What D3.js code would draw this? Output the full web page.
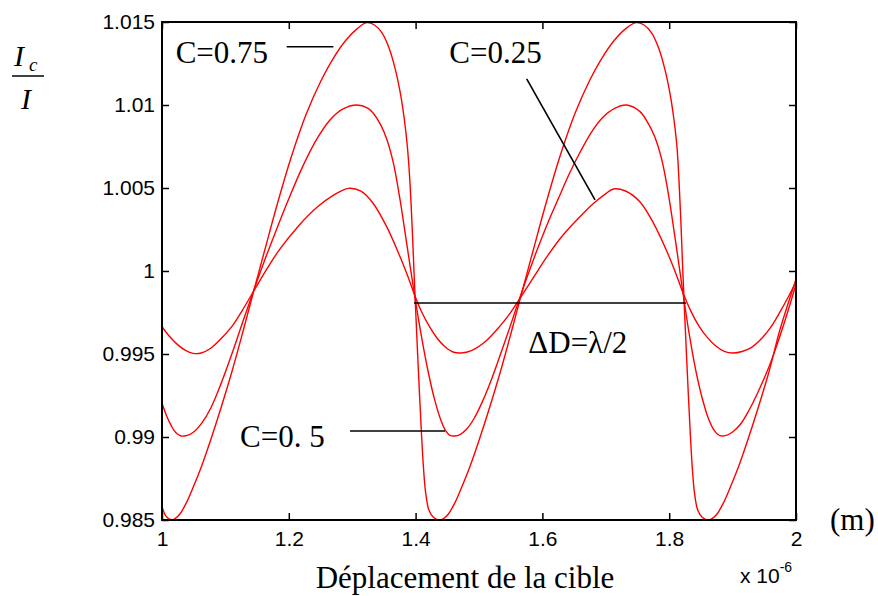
<!DOCTYPE html>
<html>
<head>
<meta charset="utf-8">
<script src="https://cdn.jsdelivr.net/npm/d3@7"></script>
<style>
  body { margin: 0; background: #fff; }
  .tick text { font-family: "Liberation Sans", Arial, sans-serif; font-size: 21px; fill: #000; }
  .tick line { stroke: #000; stroke-width: 1.5; }
  .serif { font-family: "Liberation Serif", "Times New Roman", serif; fill: #000; }
</style>
</head>
<body>
<div id="chart"></div>
<script>

// x in units of 1e-6 m, y = Ic/I
var c25 = [[1.000,0.99664],[1.012,0.99605],[1.025,0.99555],[1.037,0.99522],[1.049,0.99504],[1.062,0.99506],
  [1.075,0.99530],[1.090,0.99580],[1.110,0.99665],[1.127,0.99765],[1.144,0.99875],[1.165,1.00010],
  [1.185,1.00127],[1.215,1.00270],[1.245,1.00385],[1.270,1.00455],[1.294,1.00498],[1.313,1.00482],
  [1.332,1.00413],[1.354,1.00270],[1.375,1.00090],[1.388,0.99965],[1.399,0.99850],[1.410,0.99750],
  [1.422,0.99665],[1.434,0.99595],[1.446,0.99545],[1.459,0.99512],[1.472,0.99506],[1.488,0.99520],
  [1.510,0.99575],[1.533,0.99668],[1.548,0.99740],[1.562,0.99820],[1.584,0.99950],[1.607,1.00085],
  [1.630,1.00205],[1.655,1.00310],[1.680,1.00405],[1.698,1.00460],[1.712,1.00494],[1.731,1.00482],
  [1.754,1.00416],[1.775,1.00290],[1.795,1.00130],[1.810,0.99990],[1.822,0.99866],[1.834,0.99760],
  [1.847,0.99668],[1.860,0.99600],[1.873,0.99550],[1.887,0.99516],[1.900,0.99506],[1.915,0.99515],
  [1.930,0.99540],[1.945,0.99590],[1.960,0.99660],[1.975,0.99755],[1.988,0.99845],[2.000,0.99935]];

var c50 = [[1.000,0.99203],[1.007,0.99130],[1.015,0.99065],[1.022,0.99025],[1.030,0.99006],[1.040,0.99010],
  [1.050,0.99030],[1.063,0.99085],[1.077,0.99175],[1.093,0.99320],[1.112,0.99520],[1.128,0.99700],
  [1.144,0.99875],[1.160,1.00045],[1.178,1.00225],[1.200,1.00435],[1.222,1.00630],[1.245,1.00800],
  [1.265,1.00910],[1.285,1.00975],[1.307,1.01000],[1.325,1.00980],[1.3333,1.00950],[1.345,1.00880],
  [1.3544,1.00795],[1.365,1.00650],[1.375,1.00440],[1.387,1.00140],[1.399,0.99840],[1.410,0.99590],
  [1.420,0.99390],[1.430,0.99225],[1.440,0.99100],[1.447,0.99040],[1.454,0.99010],[1.462,0.99006],
  [1.470,0.99015],[1.480,0.99045],[1.492,0.99110],[1.505,0.99210],[1.520,0.99350],[1.535,0.99510],
  [1.549,0.99665],[1.562,0.99813],[1.576,0.99965],[1.591,1.00120],[1.608,1.00285],[1.625,1.00435],
  [1.643,1.00590],[1.660,1.00720],[1.678,1.00840],[1.695,1.00925],[1.714,1.00980],[1.733,1.01000],
  [1.754,1.00960],[1.766,1.00895],[1.777,1.00810],[1.788,1.00675],[1.798,1.00480],[1.810,1.00180],
  [1.822,0.99860],[1.832,0.99610],[1.842,0.99400],[1.852,0.99235],[1.862,0.99110],[1.871,0.99040],
  [1.880,0.99008],[1.890,0.99010],[1.900,0.99030],[1.912,0.99075],[1.925,0.99155],[1.940,0.99270],
  [1.955,0.99400],[1.970,0.99555],[1.985,0.99730],[2.000,0.99920]];

var c75 = [[1.000,0.98582],[1.006,0.98525],[1.0153,0.98500],[1.021,0.98510],[1.028,0.98535],[1.038,0.98600],
  [1.050,0.98705],[1.063,0.98830],[1.077,0.98985],[1.093,0.99175],[1.110,0.99390],[1.127,0.99625],
  [1.144,0.99870],[1.162,1.00125],[1.182,1.00405],[1.205,1.00700],[1.228,1.00950],[1.250,1.01140],
  [1.270,1.01280],[1.290,1.01390],[1.308,1.01460],[1.3229,1.01496],[1.335,1.01482],[1.347,1.01435],
  [1.358,1.01345],[1.368,1.01215],[1.376,1.01070],[1.382,1.00920],[1.387,1.00750],[1.391,1.00540],
  [1.3945,1.00270],[1.3975,0.99995],[1.4005,0.99730],[1.4035,0.99475],[1.4065,0.99230],[1.4095,0.99005],
  [1.4125,0.98810],[1.416,0.98660],[1.421,0.98560],[1.428,0.98517],[1.4385,0.98500],[1.4445,0.98510],
  [1.4515,0.98535],[1.4615,0.98600],[1.4735,0.98705],[1.4865,0.98830],[1.5005,0.98985],[1.5165,0.99175],
  [1.5335,0.99390],[1.5505,0.99625],[1.5675,0.99870],[1.5855,1.00125],[1.6055,1.00405],[1.6285,1.00700],
  [1.6515,1.00950],[1.6735,1.01140],[1.6935,1.01280],[1.7135,1.01390],[1.7315,1.01460],[1.7476,1.01496],
  [1.7602,1.01482],[1.7722,1.01435],[1.7832,1.01345],[1.7932,1.01215],[1.8012,1.01070],[1.8072,1.00920],
  [1.8122,1.00750],[1.8155,1.00540],[1.8187,1.00270],[1.8215,0.99995],[1.8245,0.99730],[1.8275,0.99475],
  [1.8305,0.99230],[1.8335,0.99005],[1.8365,0.98810],[1.840,0.98660],[1.845,0.98560],[1.852,0.98517],
  [1.8625,0.98500],[1.8682,0.98510],[1.8752,0.98535],[1.8852,0.98600],[1.8972,0.98705],[1.9102,0.98830],
  [1.9242,0.98985],[1.9402,0.99175],[1.9572,0.99390],[1.9742,0.99640],[1.9872,0.99800],[2.000,0.99950]];

var xTicks = [1, 1.2, 1.4, 1.6, 1.8, 2];
var xTickLabels = ["1", "1.2", "1.4", "1.6", "1.8", "2"];
var yTicks = [0.985, 0.99, 0.995, 1, 1.005, 1.01, 1.015];
var yTickLabels = ["0.985", "0.99", "0.995", "1", "1.005", "1.01", "1.015"];

// annotations (data coords)
var noteText = ["C=0.75", "C=0.25", "C=0. 5", "\u0394D=\u03bb/2"];
var notePos = [[1.0216, 1.01255], [1.5989, 1.01255], [1.1230, 0.98942], [1.5778, 0.99508]];
var noteAnchor = ["start", "end", "start", "start"];
var pointers = [
  [[1.1967, 1.01351], [1.2703, 1.01351]],
  [[1.5752, 1.01157], [1.6830, 1.00428]],
  [[1.2965, 0.99036], [1.4464, 0.99036]],
  [[1.3975, 0.99807], [1.8265, 0.99807]]
];

var margin = {top: 22, right: 82, bottom: 76, left: 162},
    width = 878 - margin.left - margin.right,
    height = 596 - margin.top - margin.bottom;

var svg = d3.select("#chart")
  .append("svg")
    .attr("width", 878)
    .attr("height", 596)
  .append("g")
    .attr("transform", "translate(" + margin.left + "," + margin.top + ")");

var x = d3.scaleLinear().domain([1, 2]).range([0, width]);
var y = d3.scaleLinear().domain([0.985, 1.015]).range([height, 0]);

svg.append("clipPath").attr("id", "plotclip")
  .append("rect").attr("width", width).attr("height", height);

var line = d3.line()
    .x(function(d) { return x(d[0]); })
    .y(function(d) { return y(d[1]); })
    .curve(d3.curveCatmullRom.alpha(0.5));

// curves
[c25, c50, c75].forEach(function(s) {
  svg.append("path")
      .datum(s)
      .attr("clip-path", "url(#plotclip)")
      .attr("fill", "none")
      .attr("stroke", "#ff0000")
      .attr("stroke-width", 1.4)
      .attr("d", line);
});

// axes, ticks pointing inward on all four sides
svg.append("g")
    .call(d3.axisLeft(y).tickValues(yTicks)
      .tickFormat(function(d, i) { return yTickLabels[i]; })
      .tickSizeInner(-7).tickSizeOuter(0).tickPadding(7))
    .call(function(g) { g.select(".domain").remove(); });

svg.append("g")
    .attr("transform", "translate(" + width + ",0)")
    .call(d3.axisRight(y).tickValues(yTicks).tickFormat("")
      .tickSizeInner(-7).tickSizeOuter(0))
    .call(function(g) { g.select(".domain").remove(); });

svg.append("g")
    .attr("transform", "translate(0," + height + ")")
    .call(d3.axisBottom(x).tickValues(xTicks)
      .tickFormat(function(d, i) { return xTickLabels[i]; })
      .tickSizeInner(-7).tickSizeOuter(0).tickPadding(11))
    .call(function(g) { g.select(".domain").remove(); });

svg.append("g")
    .call(d3.axisTop(x).tickValues(xTicks).tickFormat("")
      .tickSizeInner(-7).tickSizeOuter(0))
    .call(function(g) { g.select(".domain").remove(); });

svg.selectAll(".tick text").attr("font-family", null).attr("font-size", null);

// box
svg.append("rect")
    .attr("width", width)
    .attr("height", height)
    .attr("fill", "none")
    .attr("stroke", "#000")
    .attr("stroke-width", 2);

// annotation lines + text
svg.selectAll(".pointer")
  .data(pointers)
  .enter().append("line")
    .attr("class", "pointer")
    .attr("x1", function(d) { return x(d[0][0]); })
    .attr("y1", function(d) { return y(d[0][1]); })
    .attr("x2", function(d) { return x(d[1][0]); })
    .attr("y2", function(d) { return y(d[1][1]); })
    .attr("stroke", "#000")
    .attr("stroke-width", 1.6);

svg.selectAll(".note")
  .data(noteText)
  .enter().append("text")
    .attr("class", "note serif")
    .attr("x", function(d, i) { return x(notePos[i][0]); })
    .attr("y", function(d, i) { return y(notePos[i][1]); })
    .attr("text-anchor", function(d, i) { return noteAnchor[i]; })
    .style("font-size", "31px")
    .text(function(d) { return d; });

// x axis title, units, exponent
svg.append("text")
    .attr("class", "serif")
    .attr("x", 303)
    .attr("y", height + 68)
    .attr("text-anchor", "middle")
    .style("font-size", "31px")
    .text("Déplacement de la cible");

svg.append("text")
    .attr("class", "serif")
    .attr("x", width + 34)
    .attr("y", height + 10)
    .style("font-size", "31px")
    .text("(m)");

var expo = svg.append("text")
    .attr("x", width - 56)
    .attr("y", height + 63)
    .style("font-family", "'Liberation Sans', Arial, sans-serif")
    .style("font-size", "21px")
    .text("x 10");
expo.append("tspan")
    .attr("dy", -11)
    .style("font-size", "14px")
    .text("-6");

// y label: Ic / I
var ylab = d3.select("svg").append("g").attr("class", "serif");
ylab.append("text")
    .attr("x", 14).attr("y", 66)
    .style("font-size", "30px").style("font-style", "italic")
    .text("I");
ylab.append("text")
    .attr("x", 29).attr("y", 71)
    .style("font-size", "19px").style("font-style", "italic")
    .text("c");
ylab.append("line")
    .attr("x1", 12).attr("x2", 44).attr("y1", 76).attr("y2", 76)
    .attr("stroke", "#000").attr("stroke-width", 1.5);
ylab.append("text")
    .attr("x", 21).attr("y", 109)
    .style("font-size", "30px").style("font-style", "italic")
    .text("I");

</script>
</body>
</html>
